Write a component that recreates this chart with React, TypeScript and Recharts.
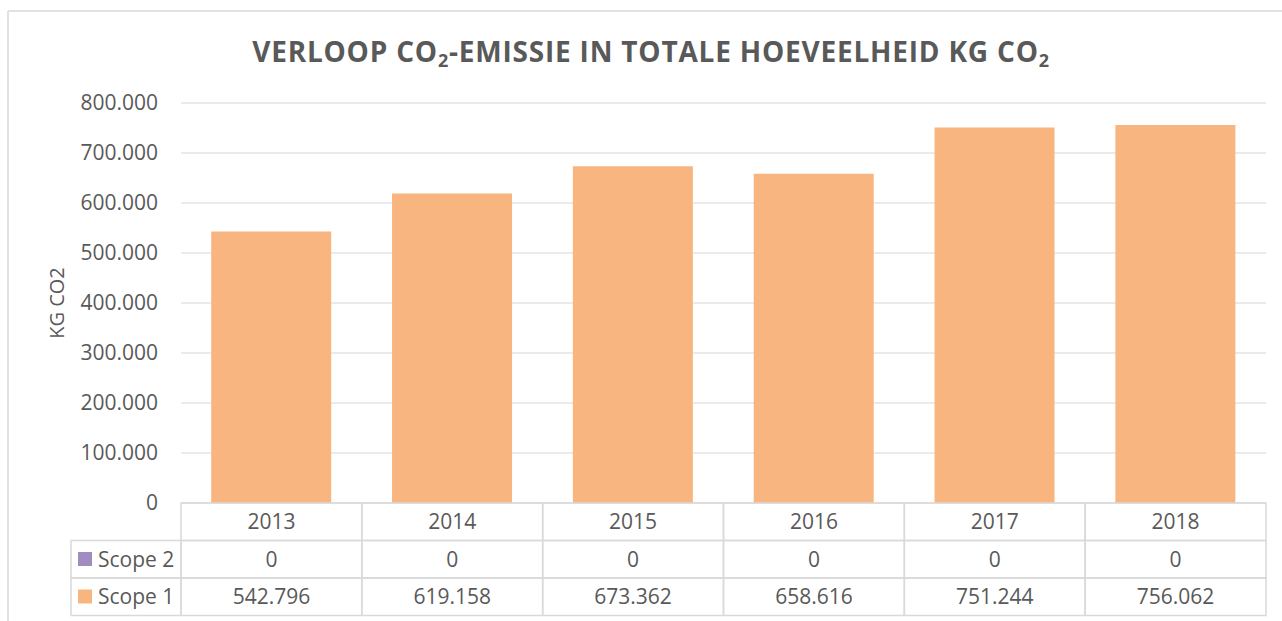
import React from 'react';
import { BarChart, Bar, XAxis, YAxis, CartesianGrid } from 'recharts';

const YEARS = ['2013', '2014', '2015', '2016', '2017', '2018'];
const SCOPE_1 = [542796, 619158, 673362, 658616, 751244, 756062];
const SCOPE_2 = [0, 0, 0, 0, 0, 0];
const Y_TICKS = [0, 100000, 200000, 300000, 400000, 500000, 600000, 700000, 800000];

const W = 1282;
const H = 621;
const MARGIN = { top: 103, right: 16, bottom: 4, left: 0 };
const Y_AXIS_W = 181;
const X_AXIS_H = 114;
const PLOT_W = W - MARGIN.left - MARGIN.right - Y_AXIS_W;
const ROW_H = 37.5;
const LEGEND_W = 110;

const TEXT = '#595959';
const LINE = '#d9d9d9';
const ORANGE = '#F9B57F';
const PURPLE = '#A08CC0';
const FONT = '"Open Sans", sans-serif';

// dutch thousand separators: 800000 -> 800.000
const fmt = (v: number) => String(v).replace(/\B(?=(\d{3})+(?!\d))/g, '.');

const data = YEARS.map((year, i) => ({ year, scope1: SCOPE_1[i], scope2: SCOPE_2[i] }));

// x axis tick drawn as a column of the data table under the chart
const TableTick = (props: any) => {
  const { x, y, index } = props;
  const band = PLOT_W / YEARS.length;
  const left = x - band / 2;
  const cell = (row: number) => (
    <rect x={left} y={y + row * ROW_H} width={band} height={ROW_H} fill="none" stroke={LINE} strokeWidth={1.5} />
  );
  const txt = (row: number, value: string) => (
    <text x={x} y={y + row * ROW_H + ROW_H / 2} dy="0.35em" textAnchor="middle" fill={TEXT} fontSize={21} fontFamily={FONT}>
      {value}
    </text>
  );
  const rows = [
    { name: 'Scope 2', color: PURPLE },
    { name: 'Scope 1', color: ORANGE },
  ];
  return (
    <g>
      {cell(0)}
      {cell(1)}
      {cell(2)}
      {txt(0, props.payload.value)}
      {txt(1, fmt(SCOPE_2[index]))}
      {txt(2, fmt(SCOPE_1[index]))}
      {index === 0 &&
        rows.map((r, i) => {
          const ry = y + (i + 1) * ROW_H;
          const lx = left - LEGEND_W;
          return (
            <g key={r.name}>
              <rect x={lx} y={ry} width={LEGEND_W} height={ROW_H} fill="none" stroke={LINE} strokeWidth={1.5} />
              <rect x={lx + 7} y={ry + 11.5} width={14} height={14} fill={r.color} />
              <text x={lx + 27} y={ry + ROW_H / 2} dy="0.35em" fill={TEXT} fontSize={21} fontFamily={FONT}>
                {r.name}
              </text>
            </g>
          );
        })}
    </g>
  );
};

const YLabel = (props: any) => {
  const vb = props.viewBox;
  const cx = vb.x + 57;
  const cy = vb.y + vb.height / 2;
  return (
    <text x={cx} y={cy} transform={`rotate(-90 ${cx} ${cy})`} textAnchor="middle" dy="0.35em" fill={TEXT} fontSize={20} fontFamily={FONT}>
      KG CO2
    </text>
  );
};

export default function App() {
  return (
    <div style={{ position: 'absolute', left: 0, top: 0, width: W, height: H, overflow: 'hidden', background: '#fff' }}>
      <svg width={W} height={H} style={{ position: 'absolute', left: 0, top: 0 }}>
        <line x1={8} y1={11} x2={W} y2={11} stroke={LINE} strokeWidth={1.5} />
        <line x1={8} y1={11} x2={8} y2={H} stroke={LINE} strokeWidth={1.5} />
        <text x={651} y={62} textAnchor="middle" fill={TEXT} fontSize={28} fontWeight={700} fontFamily={FONT} letterSpacing={0.8}>
          VERLOOP CO<tspan fontSize={18} dy={5}>2</tspan>
          <tspan dy={-5}>-EMISSIE IN TOTALE HOEVEELHEID KG CO</tspan>
          <tspan fontSize={18} dy={5}>2</tspan>
        </text>
      </svg>
      <div style={{ position: 'absolute', left: 0, top: 0 }}>
        <BarChart width={W} height={H} data={data} margin={MARGIN} barCategoryGap="16.7%">
          <CartesianGrid vertical={false} stroke="#ebebeb" strokeWidth={2} />
          <YAxis
            width={Y_AXIS_W}
            domain={[0, 800000]}
            ticks={Y_TICKS}
            tickFormatter={fmt}
            axisLine={false}
            tickLine={false}
            tickSize={0}
            tickMargin={23}
            tick={{ fill: TEXT, fontSize: 21, fontFamily: FONT }}
            label={<YLabel />}
          />
          <XAxis
            dataKey="year"
            height={X_AXIS_H}
            axisLine={false}
            tickLine={false}
            tickSize={0}
            tickMargin={0}
            interval={0}
            tick={<TableTick />}
          />
          <Bar dataKey="scope1" stackId="a" fill={ORANGE} isAnimationActive={false} />
          <Bar dataKey="scope2" stackId="a" fill={PURPLE} isAnimationActive={false} />
        </BarChart>
      </div>
    </div>
  );
}
